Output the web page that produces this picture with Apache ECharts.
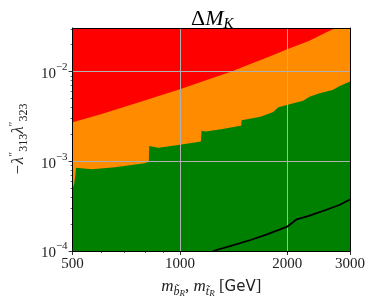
<!DOCTYPE html>
<html><head><meta charset="utf-8">
<script src="https://cdn.jsdelivr.net/npm/echarts@6/dist/echarts.min.js"></script>
<style>html,body{margin:0;padding:0;background:#fff}#c{width:374px;height:307px}</style>
</head><body><div id="c"></div>
<script>
// axis ranges and tick labels
const xMin = 500, xMax = 3000;
const yMin = 1e-4, yMax = 0.0307;
const xTickValues = [500, 1000, 2000, 3000];
const yTickValues = [1e-4, 1e-3, 1e-2];

// red / orange boundary
const redBoundaryX = [500, 600, 700, 800, 1000, 1150, 1390, 1500, 1800, 2000, 2300, 2620, 3000];
const redBoundaryY = [2.72e-3, 3.36e-3, 4.06e-3, 4.80e-3, 6.35e-3, 7.7e-3, 9.97e-3, 1.126e-2, 1.50e-2, 1.775e-2, 2.2e-2, 2.84e-2, 3.6e-2];

// orange / green boundary
const greenBoundaryX = [500, 505, 509, 511, 566, 657, 795, 818, 820, 870, 1000, 1145, 1150, 1180, 1305, 1466, 1486, 1490, 1683, 1827, 1888, 1995, 2215, 2309, 2465, 2680, 2797, 3000];
const greenBoundaryY = [5.0e-4, 5.6e-4, 7.0e-4, 8.5e-4, 8.15e-4, 8.57e-4, 9.51e-4, 9.9e-4, 1.48e-3, 1.42e-3, 1.53e-3, 1.66e-3, 2.19e-3, 2.15e-3, 2.28e-3, 2.48e-3, 2.50e-3, 2.88e-3, 3.14e-3, 3.54e-3, 4.00e-3, 4.25e-3, 4.75e-3, 5.25e-3, 5.73e-3, 6.24e-3, 6.90e-3, 7.77e-3];

// black limit curve
const limitX = [1238, 1390, 1578, 1755, 2000, 2126, 2300, 2564, 2800, 3000];
const limitY = [1.0e-4, 1.14e-4, 1.326e-4, 1.535e-4, 1.866e-4, 2.256e-4, 2.46e-4, 2.865e-4, 3.26e-4, 3.75e-4];

const serif = '"Liberation Serif","DejaVu Serif",serif';
const zip = (a, b) => a.map((v, i) => [v, b[i]]);

const chart = echarts.init(document.getElementById('c'), null, {renderer: 'canvas'});

const option = {
  animation: false,
  title: {
    text: '{a|Δ}{m|M}{k|K}',
    left: 186, top: 1,
    textStyle: {
      fontWeight: 'normal',
      rich: {
        a: {fontFamily: serif, fontSize: 22, fontWeight: 'normal', color: '#000', lineHeight: 26},
        m: {fontFamily: serif, fontSize: 22, fontWeight: 'normal', fontStyle: 'italic', color: '#000', lineHeight: 26},
        k: {fontFamily: serif, fontSize: 15, fontWeight: 'normal', fontStyle: 'italic', color: '#000', verticalAlign: 'bottom', lineHeight: 15}
      }
    }
  },
  grid: {left: 69, right: 24, top: 28, bottom: 56, show: true, backgroundColor: '#ff0000', borderWidth: 0},
  xAxis: [{
    type: 'log', logBase: 10, min: xMin, max: xMax, position: 'bottom', z: 4,
    axisLine: {show: true, lineStyle: {color: '#000', width: 1}},
    axisTick: {show: true, customValues: xTickValues, length: 4, lineStyle: {color: '#000', width: 0.8}},
    minorTick: {show: true, splitNumber: 9, length: 2, lineStyle: {color: '#000', width: 0.6}},
    axisLabel: {customValues: xTickValues, fontFamily: serif, fontSize: 15, color: '#222', margin: 6,
      formatter: v => String(Math.round(v))},
    splitLine: {show: true, lineStyle: {color: '#b0b0b0', width: 1}},
    minorSplitLine: {show: false},
    name: '{i|m}{sb|b\u0303}{ss|R}{n|, }{i|m}{sb|t\u0303}{ss|R}{n| [}{g|GeV}{n|]}',
    nameLocation: 'middle', nameGap: 25,
    nameTextStyle: {
      rich: {
        i: {fontFamily: serif, fontSize: 17, fontStyle: 'italic', color: '#222', lineHeight: 22},
        sb: {fontFamily: serif, fontSize: 12, fontStyle: 'italic', color: '#222', verticalAlign: 'bottom', lineHeight: 14},
        ss: {fontFamily: serif, fontSize: 9, fontStyle: 'italic', color: '#222', verticalAlign: 'bottom', lineHeight: 8},
        n: {fontFamily: serif, fontSize: 17, color: '#222', lineHeight: 22},
        g: {fontFamily: '"DejaVu Sans",sans-serif', fontSize: 15, color: '#222', lineHeight: 22}
      }
    }
  }, {
    type: 'log', logBase: 10, min: xMin, max: xMax, position: 'top', z: 4,
    axisLine: {show: true, lineStyle: {color: '#000', width: 1}},
    axisTick: {show: false}, axisLabel: {show: false}, splitLine: {show: false}, minorTick: {show: false}
  }],
  yAxis: [{
    type: 'log', logBase: 10, min: yMin, max: yMax, position: 'left', z: 4,
    axisLine: {show: true, lineStyle: {color: '#000', width: 1}},
    axisTick: {show: true, customValues: yTickValues, length: 4, lineStyle: {color: '#000', width: 0.8}},
    minorTick: {show: true, splitNumber: 9, length: 2, lineStyle: {color: '#000', width: 0.6}},
    axisLabel: {customValues: yTickValues, margin: 5,
      formatter: v => '{b|10}{s|−' + Math.abs(Math.round(Math.log10(v))) + '}',
      rich: {
        b: {fontFamily: serif, fontSize: 15, color: '#222', lineHeight: 20, verticalAlign: 'bottom'},
        s: {fontFamily: serif, fontSize: 11, color: '#222', lineHeight: 12, verticalAlign: 'top'}
      }},
    splitLine: {show: true, lineStyle: {color: '#b0b0b0', width: 1}},
    minorSplitLine: {show: false},
    name: '{t|−λ}{p|″}{s|313}{t|λ}{p|″}{s|323}',
    nameLocation: 'middle', nameGap: 42,
    nameTextStyle: {
      rich: {
        t: {fontFamily: serif, fontSize: 17, fontStyle: 'italic', color: '#222', lineHeight: 22},
        p: {fontFamily: serif, fontSize: 12, color: '#222', verticalAlign: 'top', lineHeight: 12},
        s: {fontFamily: serif, fontSize: 12, color: '#222', verticalAlign: 'bottom', lineHeight: 12}
      }
    }
  }, {
    type: 'log', logBase: 10, min: yMin, max: yMax, position: 'right', z: 4,
    axisLine: {show: true, lineStyle: {color: '#000', width: 1}},
    axisTick: {show: false}, axisLabel: {show: false}, splitLine: {show: false}, minorTick: {show: false}
  }],
  series: [{
    type: 'line', name: 'orange', data: zip(redBoundaryX, redBoundaryY), xAxisIndex: 0, yAxisIndex: 0,
    symbol: 'none', silent: true, z: 2, clip: true,
    lineStyle: {width: 0}, areaStyle: {color: '#ff8c00', opacity: 1, origin: 'start'}
  }, {
    type: 'line', name: 'green', data: zip(greenBoundaryX, greenBoundaryY), xAxisIndex: 0, yAxisIndex: 0,
    symbol: 'none', silent: true, z: 3, clip: true,
    lineStyle: {width: 0}, areaStyle: {color: '#008000', opacity: 1, origin: 'start'}
  }, {
    type: 'line', name: 'limit', data: zip(limitX, limitY), xAxisIndex: 0, yAxisIndex: 0,
    symbol: 'none', silent: true, z: 6, clip: true,
    lineStyle: {width: 1.8, color: '#000'}
  }]
};
chart.setOption(option);
</script>
</body></html>
